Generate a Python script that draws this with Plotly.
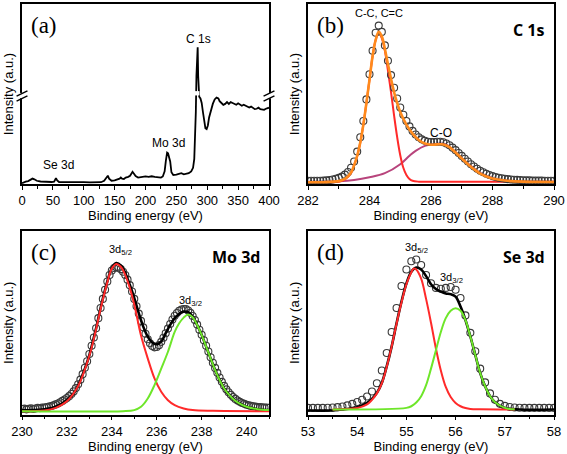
import plotly.graph_objects as go

# ---------------- (a) survey spectrum ----------------
survey_be = [0, 3, 6, 10, 14, 17, 20, 24, 30, 36, 42, 48, 52, 55, 57, 60, 70, 80, 90, 100,
             110, 120, 128, 133, 137, 139, 141, 145, 150, 155, 158, 160, 162, 165, 168, 172,
             175, 179, 181, 184, 188, 192, 196, 200, 205, 210, 215, 220, 225, 228, 231, 233,
             235, 236.5, 238, 240, 242, 245, 250, 255, 258, 262, 266, 270, 274, 277, 279,
             280.5, 281.5, 282.5, 283.5, 284.5, 285.3, 286, 287, 289, 291, 293, 295, 297,
             299, 301, 303, 306, 309, 312, 315, 318, 320, 323, 326, 329, 332, 335, 338, 341,
             344, 347, 350, 353, 356, 359, 362, 365, 368, 371, 374, 377, 380, 383, 386, 389,
             392, 395, 398, 400]
survey_int = [0.5, 1.0, 1.3, 1.6, 2.6, 3.0, 2.6, 1.8, 1.4, 1.2, 1.0, 1.1, 1.3, 3.2, 2.0, 1.1,
              1.0, 1.1, 0.9, 1.0, 0.9, 1.0, 1.0, 1.8, 3.8, 4.6, 3.0, 1.8, 2.0, 2.4, 3.0, 3.6,
              3.0, 2.8, 3.6, 4.0, 4.6, 6.8, 6.0, 4.4, 3.6, 3.8, 4.0, 4.2, 4.0, 4.3, 4.0, 3.8,
              3.6, 4.2, 7.0, 13, 17.4, 17, 14.8, 12.5, 6.5, 5.0, 5.2, 5.8, 6.0, 5.4, 5.6, 6.0,
              7.0, 9.0, 14, 25, 40, 60, 76, 76, 60, 50, 48.5, 47.5, 45, 40, 34, 31, 30.5, 32.5,
              37, 41.5, 44.5, 47, 48, 47.5, 46, 45, 44, 44.5, 45.5, 44.5, 45.5, 45, 44.6, 44,
              44.8, 44, 43.5, 44, 43.5, 43, 42.5, 43, 42.2, 41.6, 41.8, 42.4, 41.6, 41.4, 41.2,
              41.8, 42.2, 42.4]
survey_xticks = [0, 50, 100, 150, 200, 250, 300, 350, 400]

# ---------------- (b) C 1s ----------------
c1s_be = [282.0, 282.1, 282.2, 282.3, 282.4, 282.5, 282.6, 282.7, 282.8, 282.9,
          283.0, 283.1, 283.2, 283.3, 283.4, 283.5, 283.6, 283.7, 283.8, 283.9,
          284.0, 284.1, 284.2, 284.3, 284.4, 284.5, 284.6, 284.7, 284.8, 284.9,
          285.0, 285.1, 285.2, 285.3, 285.4, 285.5, 285.6, 285.7, 285.8, 285.9,
          286.0, 286.1, 286.2, 286.3, 286.4, 286.5, 286.6, 286.7, 286.8, 286.9,
          287.0, 287.1, 287.2, 287.3, 287.4, 287.5, 287.6, 287.7, 287.8, 287.9,
          288.0, 288.1, 288.2, 288.3, 288.4, 288.5, 288.6, 288.7, 288.8, 288.9,
          289.0, 289.1, 289.2, 289.3, 289.4, 289.5, 289.6, 289.7, 289.8, 289.9, 290.0]
c1s_data = [1.8, 1.8, 1.8, 1.8, 1.8, 1.9, 2.0, 2.2, 2.5, 2.9,
            3.4, 4.1, 5.2, 6.7, 9.0, 12.5, 18, 26, 35, 47,
            61, 74, 84, 88, 84.5, 77, 68.5, 60.5, 53.5, 47.5,
            42.5, 38.5, 35, 32, 29.5, 27.5, 26, 24.8, 24, 23.5,
            23.3, 23.3, 23.5, 23.5, 23.2, 22.5, 21.5, 20.2, 18.8, 17.2,
            15.6, 14, 12.5, 11, 9.7, 8.5, 7.4, 6.5, 5.7, 5.0,
            4.4, 3.9, 3.5, 3.2, 2.9, 2.7, 2.5, 2.4, 2.3, 2.2,
            2.1, 2.0, 2.0, 1.9, 1.9, 1.9, 1.9, 1.8, 1.8, 1.8, 1.8]
c1s_fit_be = [282.0, 282.5, 283.0, 283.2, 283.4, 283.5, 283.6, 283.7, 283.8, 283.9, 284.0,
              284.1, 284.2, 284.3, 284.4, 284.5, 284.6, 284.7, 284.8, 284.9, 285.0, 285.2,
              285.4, 285.6, 285.8, 286.0, 286.2, 286.4, 286.6, 286.8, 287.0, 287.2, 287.4,
              287.6, 287.8, 288.0, 288.4, 289.0, 290.0]
c1s_envelope = [1.0, 1.0, 1.6, 2.8, 6.4, 10.5, 15.7, 23, 33, 45, 58, 71, 80, 84.5, 82, 75,
                66.5, 58.5, 51, 45, 40, 33, 28, 24.5, 22.5, 21.8, 22, 22, 20.5, 17.5, 14.2,
                11, 8.2, 5.8, 4.2, 3.0, 1.9, 1.3, 1.1]
cc_be = [282.0, 283.0, 283.2, 283.4, 283.5, 283.6, 283.7, 283.8, 283.9, 284.0, 284.1, 284.2,
         284.3, 284.4, 284.5, 284.6, 284.7, 284.8, 284.9, 285.0, 285.1, 285.2, 285.3, 285.4,
         285.6, 286.0, 290.0]
cc_peak = [1.0, 1.2, 2.5, 6, 10.3, 15.5, 23, 33, 45, 58, 71, 80, 84, 81, 74, 63, 51, 38, 26,
           16, 9, 5, 2.8, 1.8, 1.3, 1.2, 1.2]
co_be = [282.0, 283.0, 283.5, 284.0, 284.5, 285.0, 285.3, 285.5, 285.8, 286.0, 286.3, 286.5,
         286.8, 287.0, 287.3, 287.6, 288.0, 288.5, 289.0, 290.0]
co_peak = [1.2, 1.5, 2.2, 3.7, 6, 11, 15.7, 18.4, 21.2, 21.9, 22.5, 21.9, 17.8, 14.5, 10,
           6.2, 3.4, 1.9, 1.4, 1.2]
c1s_xticks = [282, 284, 286, 288, 290]

# ---------------- (c) Mo 3d ----------------
mo_be = [round(230 + 0.1 * i, 1) for i in range(111)]
mo_data = [3.0, 3.2, 2.8, 3.1, 3.4, 3.0, 3.3, 3.6, 3.5, 3.8,
           3.8, 4.0, 4.3, 4.6, 5.0, 5.5, 6.0, 6.7, 7.4, 8.2,
           9.0, 10.0, 11.2, 12.6, 14.4, 16.5, 19, 22, 25.5, 29,
           33, 37.5, 42, 47, 52.5, 58, 63, 68, 72.5, 76,
           78.5, 79.8, 80.2, 80, 79.2, 77.8, 76, 73.5, 70.5, 67,
           63, 59, 55, 51, 47.5, 44, 41, 38.8, 37.3, 36.6,
           36.8, 37.8, 39.6, 41.8, 44.3, 46.8, 49.3, 51.8, 53.8, 55.3,
           56.5, 57.2, 57.5, 57.4, 56.7, 55.4, 53.7, 51.5, 49, 46.2,
           43.5, 40.5, 37.5, 34.3, 31.2, 28.2, 25.4, 22.7, 20.2, 17.8,
           15.6, 13.7, 12.1, 10.7, 9.5, 8.5, 7.6, 6.9, 6.3, 5.8,
           5.3, 5.0, 4.7, 4.5, 4.3, 4.1, 4.0, 3.9, 3.8, 3.8, 3.7]
mo_fit_be = [230.0, 230.5, 231.0, 231.5, 232.0, 232.3, 232.5, 232.8, 233.0, 233.3, 233.5,
             233.8, 234.0, 234.2, 234.4, 234.6, 234.8, 235.0, 235.2, 235.4, 235.6, 235.8,
             236.0, 236.2, 236.4, 236.6, 236.8, 237.0, 237.2, 237.4, 237.6, 237.8, 238.0,
             238.2, 238.4, 238.6, 238.8, 239.0, 239.3, 239.6, 240.0, 240.5, 241.0]
mo_envelope = [2.4, 2.4, 2.9, 4.2, 7.8, 11.5, 16, 25, 32.4, 47, 58, 72.5, 79.8, 82.5, 81.2,
               77, 70.7, 63.4, 55.2, 47.9, 42.4, 39.2, 38.3, 39.7, 44.3, 48.8, 52.5, 54.8,
               56.1, 55.7, 53.4, 48.8, 43.4, 37, 30.6, 24.2, 18.8, 14.2, 9.7, 6.6, 4.2, 2.9, 2.4]
mo52_be = [230.0, 231.0, 231.5, 232.0, 232.5, 233.0, 233.3, 233.5, 233.8, 234.0, 234.2, 234.4,
           234.6, 234.8, 235.0, 235.3, 235.6, 235.9, 236.2, 236.5, 236.8, 237.2, 237.6, 238.5,
           241.0]
mo52_peak = [1.8, 2.2, 3.6, 7.2, 15.5, 32, 46.5, 57.5, 72, 79.5, 82, 80.5, 76, 69, 60, 43,
             30.6, 19.7, 12.4, 7.8, 5.1, 3.3, 2.4, 2.0, 1.8]
mo32_be = [230.0, 234.5, 235.0, 235.3, 235.6, 235.9, 236.2, 236.5, 236.8, 237.0, 237.2, 237.4,
           237.6, 237.8, 238.0, 238.2, 238.4, 238.6, 238.8, 239.0, 239.3, 239.6, 240.0, 240.5,
           241.0]
mo32_peak = [1.8, 1.8, 2.4, 4.2, 8.7, 16, 25, 34.2, 45, 49.7, 52.8, 54.5, 53, 48.8, 43.4, 37,
             30.6, 24.2, 18.8, 14.2, 9.7, 6.6, 4.2, 2.9, 2.4]
mo_xticks = [230, 232, 234, 236, 238, 240]

# ---------------- (d) Se 3d ----------------
se_be = [round(53 + 0.1 * i, 1) for i in range(51)]
se_data = [3.6, 3.6, 3.6, 3.6, 3.7, 3.8, 4.0, 4.4, 5.0, 5.8,
           6.8, 8.0, 9.8, 12.5, 17, 24, 33.5, 45, 58, 70,
           79, 83.5, 84.5, 81.5, 76, 71.5, 69, 68.5, 69, 69.5,
           68, 63.5, 54, 44.5, 34.5, 25, 17.5, 11.5, 8, 5.8,
           4.7, 4.1, 3.8, 3.7, 3.6, 3.6, 3.6, 3.6, 3.6, 3.6, 3.6]
se_fit_be = [53.0, 53.5, 53.7, 54.0, 54.2, 54.3, 54.4, 54.5, 54.6, 54.7, 54.8, 54.9, 55.0,
             55.1, 55.2, 55.3, 55.4, 55.5, 55.6, 55.7, 55.8, 55.9, 56.0, 56.1, 56.2, 56.3,
             56.4, 56.5, 56.6, 56.7, 56.8, 57.0, 57.3, 58.0]
se_envelope = [2.2, 2.2, 2.7, 4, 6.3, 8.5, 11.8, 17.2, 26.2, 37, 49.7, 61.5, 71.4, 77.8, 80.1,
               79, 75.4, 71, 68.4, 67, 66, 65.6, 64.2, 58.8, 51.5, 42.5, 32.5, 22.6, 15.4,
               10, 6.7, 3.6, 2.7, 2.7]
se52_be = [53.5, 54.0, 54.2, 54.3, 54.4, 54.5, 54.6, 54.7, 54.8, 54.9, 55.0, 55.1, 55.15,
           55.2, 55.3, 55.4, 55.5, 55.6, 55.7, 55.8, 55.9, 56.0, 56.1, 56.2, 56.3, 56.5, 57.2]
se52_peak = [2.7, 3.5, 5.5, 8, 11.5, 17, 26, 37, 49.5, 61, 71, 77.5, 79.6, 79, 74, 63, 50,
             36, 24, 15, 9.5, 6.3, 4.5, 3.5, 3.0, 2.8, 2.7]
se32_be = [53.5, 55.0, 55.1, 55.2, 55.3, 55.4, 55.5, 55.6, 55.7, 55.8, 55.9, 56.0, 56.1, 56.2,
           56.3, 56.4, 56.5, 56.6, 56.7, 56.8, 57.0, 57.2]
se32_peak = [2.7, 3.6, 4.5, 6.5, 10, 16, 25, 35, 45, 52.5, 56.5, 57.9, 56.5, 51.5, 42.5,
             32.5, 22.6, 15.4, 10, 6.7, 3.6, 2.8]
se_xticks = [53, 54, 55, 56, 57, 58]

# ---------------- figure ----------------
SANS = "Liberation Sans, Arial, sans-serif"
SERIF = "Liberation Serif, Times New Roman, serif"
BOLD = "Open Sans, Noto Sans, sans-serif"

CIRCLE = dict(symbol="circle-open", size=7, color="#3a3a3a", line=dict(width=1.1))
RED = "#ff2a2a"
GREEN = "#6ee62a"
ORANGE = "#ff8a1c"
PLUM = "#b8447c"

fig = go.Figure()

# (a)
fig.add_trace(go.Scatter(x=survey_be, y=survey_int, mode="lines",
                         line=dict(color="black", width=1.8), xaxis="x", yaxis="y"))
# (b)
fig.add_trace(go.Scatter(x=co_be, y=co_peak, mode="lines", line=dict(color=PLUM, width=2, shape="spline"),
                         xaxis="x2", yaxis="y2"))
fig.add_trace(go.Scatter(x=cc_be, y=cc_peak, mode="lines", line=dict(color=RED, width=2, shape="spline"),
                         xaxis="x2", yaxis="y2"))
fig.add_trace(go.Scatter(x=c1s_be, y=c1s_data, mode="markers", marker=CIRCLE, xaxis="x2", yaxis="y2"))
fig.add_trace(go.Scatter(x=c1s_fit_be, y=c1s_envelope, mode="lines",
                         line=dict(color=ORANGE, width=2.6, shape="spline"), xaxis="x2", yaxis="y2"))
# (c)
fig.add_trace(go.Scatter(x=mo_be, y=mo_data, mode="markers", marker=CIRCLE, xaxis="x3", yaxis="y3"))
fig.add_trace(go.Scatter(x=mo_fit_be, y=mo_envelope, mode="lines",
                         line=dict(color="black", width=2.6, shape="spline"), xaxis="x3", yaxis="y3"))
fig.add_trace(go.Scatter(x=mo52_be, y=mo52_peak, mode="lines", line=dict(color=RED, width=2, shape="spline"),
                         xaxis="x3", yaxis="y3"))
fig.add_trace(go.Scatter(x=mo32_be, y=mo32_peak, mode="lines", line=dict(color=GREEN, width=2, shape="spline"),
                         xaxis="x3", yaxis="y3"))
# (d)
fig.add_trace(go.Scatter(x=se_be, y=se_data, mode="markers", marker=CIRCLE, xaxis="x4", yaxis="y4"))
fig.add_trace(go.Scatter(x=se_fit_be, y=se_envelope, mode="lines",
                         line=dict(color="black", width=2.6, shape="spline"), xaxis="x4", yaxis="y4"))
fig.add_trace(go.Scatter(x=se52_be, y=se52_peak, mode="lines", line=dict(color=RED, width=2, shape="spline"),
                         xaxis="x4", yaxis="y4"))
fig.add_trace(go.Scatter(x=se32_be, y=se32_peak, mode="lines", line=dict(color=GREEN, width=2, shape="spline"),
                         xaxis="x4", yaxis="y4"))

W, H = 567, 454
XL = [22 / W, 269 / W]
XR = [308 / W, 554 / W]
YT = [1 - 184 / H, 1 - 4 / H]
YB = [1 - 414.5 / H, 1 - 231 / H]


def xax(dom, rng, ticks, anchor, minor_dt):
    return dict(domain=dom, range=rng, tickvals=ticks, anchor=anchor, automargin=False,
                showline=True, linecolor="black", linewidth=1.5, mirror=True,
                ticks="outside", ticklen=4, tickwidth=1.2, tickcolor="black",
                minor=dict(dtick=minor_dt, ticks="outside", ticklen=3, tickwidth=1, tickcolor="black"),
                tickfont=dict(family=SANS, size=13, color="black"),
                title=dict(text="Binding energy (eV)", font=dict(family=SANS, size=13, color="black"),
                           standoff=3),
                showgrid=False, zeroline=False, fixedrange=True)


def yax(dom, anchor):
    return dict(domain=dom, range=[0, 100], anchor=anchor, automargin=False,
                showline=True, linecolor="black", linewidth=1.5, mirror=True,
                ticks="", showticklabels=False, showgrid=False, zeroline=False,
                title=dict(text="Intensity (a.u.)", font=dict(family=SANS, size=13, color="black"),
                           standoff=4), fixedrange=True)


fig.update_layout(
    width=W, height=H, margin=dict(l=0, r=0, t=0, b=0, pad=0),
    paper_bgcolor="white", plot_bgcolor="white", showlegend=False,
    xaxis=xax(XL, [0, 400], survey_xticks, "y", 25),
    yaxis=yax(YT, "x"),
    xaxis2=xax(XR, [282, 290], c1s_xticks, "y2", 1),
    yaxis2=yax(YT, "x2"),
    xaxis3=xax(XL, [230, 241], mo_xticks, "y3", 1),
    yaxis3=yax(YB, "x3"),
    xaxis4=xax(XR, [53, 58], se_xticks, "y4", 0.5),
    yaxis4=yax(YB, "x4"),
)

# axis-break marks in (a)
shapes = []
shapes.append(dict(type="rect", xref="x", yref="y", x0=280, x1=287.5, y0=49.2, y1=51.6,
                   fillcolor="white", line=dict(width=0)))
for xc in (0, 1):
    shapes.append(dict(type="rect", xref="x domain", yref="y", x0=xc - 0.02, x1=xc + 0.02,
                       y0=47.6, y1=50.6, fillcolor="white", line=dict(width=0)))
    for y0 in (46.0, 48.8):
        shapes.append(dict(type="line", xref="x domain", yref="y", x0=xc - 0.022, x1=xc + 0.022,
                           y0=y0, y1=y0 + 3.0, line=dict(color="black", width=1.4)))
fig.update_layout(shapes=shapes)

ann = []


def label(text, x, y, xref, yref, font, xanchor="center", yanchor="middle"):
    ann.append(dict(text=text, x=x, y=y, xref=xref, yref=yref, showarrow=False,
                    font=font, xanchor=xanchor, yanchor=yanchor))


panel_font = dict(family=SERIF, size=23, color="black")
bold_font = dict(family=BOLD, size=16, color="black", weight="bold")
small = dict(family=SANS, size=12, color="black")
tiny = dict(family=SANS, size=11, color="black")

label("(a)", 0.03, 0.96, "x domain", "y domain", panel_font, "left", "top")
label("(b)", 0.03, 0.96, "x2 domain", "y2 domain", panel_font, "left", "top")
label("(c)", 0.03, 0.96, "x3 domain", "y3 domain", panel_font, "left", "top")
label("(d)", 0.03, 0.96, "x4 domain", "y4 domain", panel_font, "left", "top")

label("<b>C 1s</b>", 0.97, 0.93, "x2 domain", "y2 domain", bold_font, "right", "top")
label("<b>Mo 3d</b>", 0.97, 0.93, "x3 domain", "y3 domain", bold_font, "right", "top")
label("<b>Se 3d</b>", 0.97, 0.93, "x4 domain", "y4 domain", bold_font, "right", "top")

label("C 1s", 285.5, 80.5, "x", "y", small)
label("Mo 3d", 238, 22.6, "x", "y", small)
label("Se 3d", 58.8, 10.5, "x", "y", small)

label("C-C, C=C", 284.3, 95.2, "x2", "y2", tiny)
label("C-O", 286.34, 28.6, "x2", "y2", small)

label("3d<sub>5/2</sub>", 234.4, 89.5, "x3", "y3", tiny)
label("3d<sub>3/2</sub>", 237.5, 62, "x3", "y3", tiny)
label("3d<sub>5/2</sub>", 55.2, 91, "x4", "y4", tiny)
label("3d<sub>3/2</sub>", 55.92, 74.5, "x4", "y4", tiny)

fig.update_layout(annotations=ann)

fig.write_html("out.html", config={"displayModeBar": False},
               post_script="document.body.style.margin='0';document.body.style.overflow='hidden';")
